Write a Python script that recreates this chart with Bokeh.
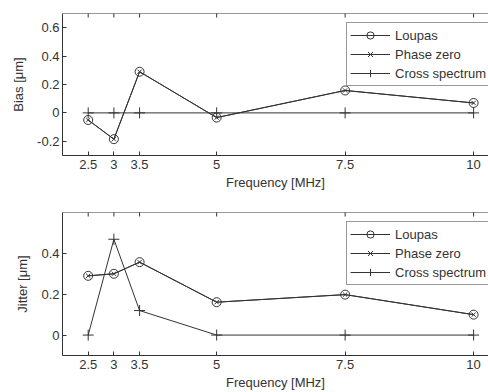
import math
from bokeh.plotting import figure
from bokeh.models import FixedTicker, Legend, LegendItem, Range1d, Span
from bokeh.layouts import column
from bokeh.embed import file_html
from bokeh.resources import INLINE

freq = [2.5, 3, 3.5, 5, 7.5, 10]
bias_loupas = [-0.05, -0.185, 0.29, -0.033, 0.158, 0.07]
bias_phase_zero = [-0.05, -0.185, 0.29, -0.033, 0.158, 0.07]
bias_cross = [0, 0, 0, 0, 0, 0]
jitter_loupas = [0.29, 0.30, 0.357, 0.161, 0.198, 0.10]
jitter_phase_zero = [0.29, 0.30, 0.357, 0.161, 0.198, 0.10]
jitter_cross = [0, 0.469, 0.12, 0, 0, 0]

x_ticks = [2.5, 3, 3.5, 5, 7.5, 10]
x_tick_labels = ["2.5", "3", "3.5", "5", "7.5", "10"]
bias_ticks = [-0.2, 0, 0.2, 0.4, 0.6]
bias_tick_labels = ["-0.2", "0", "0.2", "0.4", "0.6"]
jitter_ticks = [0, 0.2, 0.4]
jitter_tick_labels = ["0", "0.2", "0.4"]

FONT = "Liberation Sans"
TXT = "#333333"
LN = "#333333"
FS = "13px"


def make_panel(ylabel, y_lo, y_hi, yticks, ylabels, loupas, phase, cross,
               height, border_top, border_bottom, frame_h):
    p = figure(width=488, height=height, output_backend="svg", toolbar_location=None,
               x_range=Range1d(2, 10.29), y_range=Range1d(y_lo, y_hi),
               min_border_left=62, min_border_right=0,
               min_border_top=border_top, min_border_bottom=border_bottom,
               x_axis_label="Frequency [MHz]", y_axis_label=ylabel)
    p.outline_line_color = None
    p.grid.visible = False
    p.background_fill_color = "white"
    p.border_fill_color = "white"

    for ax in (p.xaxis[0], p.yaxis[0]):
        ax.major_tick_in = 4
        ax.major_tick_out = 0
        ax.minor_tick_in = 0
        ax.minor_tick_out = 0
        ax.axis_line_color = LN
        ax.major_tick_line_color = LN
        ax.major_label_text_font = FONT
        ax.major_label_text_font_size = FS
        ax.major_label_text_color = TXT
        ax.axis_label_text_font = FONT
        ax.axis_label_text_font_size = FS
        ax.axis_label_text_font_style = "normal"
        ax.axis_label_text_color = TXT

    xa = p.xaxis[0]
    xa.ticker = FixedTicker(ticks=x_ticks)
    xa.major_label_overrides = {k: v for k, v in zip(x_ticks, x_tick_labels)}
    xa.major_label_standoff = 4
    xa.axis_label_standoff = 3

    ya = p.yaxis[0]
    ya.ticker = FixedTicker(ticks=yticks)
    ya.major_label_overrides = {k: v for k, v in zip(yticks, ylabels)}
    ya.major_label_standoff = 3
    ya.axis_label_standoff = 8

    # top border of the box with inward ticks
    p.add_layout(Span(location=y_hi, dimension="width", line_color=LN, line_width=1))
    p.scatter(x_ticks, [y_hi] * len(x_ticks), marker="dash", angle=math.pi / 2,
              size=8, line_color=LN, line_width=1)

    l1 = p.line(freq, loupas, line_color=LN, line_width=1)
    s1 = p.scatter(freq, loupas, marker="circle", size=9, fill_color=None,
                   line_color=LN, line_width=1)
    l2 = p.line(freq, phase, line_color=LN, line_width=1)
    s2 = p.scatter(freq, phase, marker="x", size=6, line_color=LN, line_width=1)
    l3 = p.line(freq, cross, line_color=LN, line_width=1)
    s3 = p.scatter(freq, cross, marker="cross", size=11, line_color=LN, line_width=1)

    leg = Legend(items=[LegendItem(label="Loupas", renderers=[l1, s1]),
                        LegendItem(label="Phase zero", renderers=[l2, s2]),
                        LegendItem(label="Cross spectrum", renderers=[l3, s3])],
                 location=(284, frame_h - 7 - 66),
                 glyph_width=40, glyph_height=18, label_height=18, spacing=1,
                 padding=3, margin=0, label_standoff=5,
                 label_text_font=FONT, label_text_font_size=FS, label_text_color=TXT,
                 border_line_color=LN, border_line_width=1,
                 background_fill_color="white", background_fill_alpha=1.0)
    p.add_layout(leg, "center")
    return p


p1 = make_panel("Bias [\u03bcm]", -0.3, 0.7, bias_ticks, bias_tick_labels,
                bias_loupas, bias_phase_zero, bias_cross,
                height=195, border_top=13, border_bottom=40, frame_h=142)
p2 = make_panel("Jitter [\u03bcm]", -0.1, 0.6, jitter_ticks, jitter_tick_labels,
                jitter_loupas, jitter_phase_zero, jitter_cross,
                height=197, border_top=17, border_bottom=37, frame_h=143)

layout = column(p1, p2, spacing=0)
open("out.html", "w").write(file_html(layout, INLINE))
